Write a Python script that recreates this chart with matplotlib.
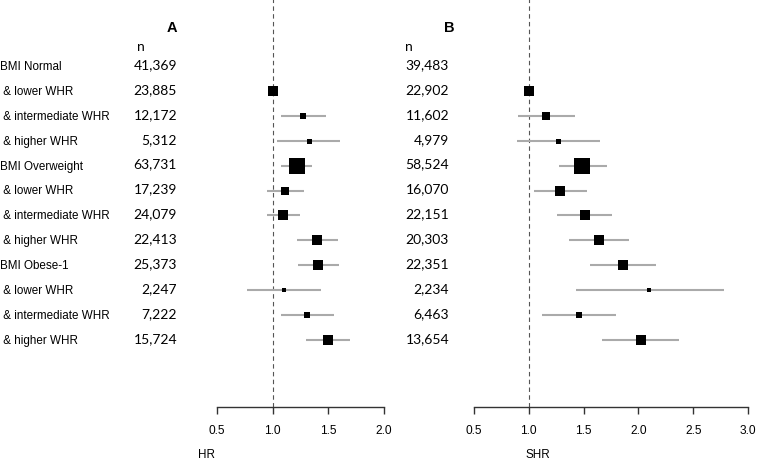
import numpy as np
import matplotlib
matplotlib.use("Agg")
import matplotlib.pyplot as plt
from matplotlib.transforms import blended_transform_factory

# row labels shared by both panels
labels = ["BMI Normal", " & lower WHR", " & intermediate WHR", " & higher WHR",
          "BMI Overweight", " & lower WHR", " & intermediate WHR", " & higher WHR",
          "BMI Obese-1", " & lower WHR", " & intermediate WHR", " & higher WHR"]

# panel A (HR)
n_a = ["41,369", "23,885", "12,172", "5,312", "63,731", "17,239",
       "24,079", "22,413", "25,373", "2,247", "7,222", "15,724"]
hr = [np.nan, 1.00, 1.27, 1.33, 1.22, 1.11, 1.09, 1.40, 1.41, 1.10, 1.31, 1.50]
hr_lo = [np.nan, np.nan, 1.075, 1.04, 1.075, 0.95, 0.95, 1.22, 1.23, 0.77, 1.075, 1.30]
hr_hi = [np.nan, np.nan, 1.48, 1.61, 1.355, 1.28, 1.25, 1.59, 1.60, 1.44, 1.55, 1.70]
w_a = [0, 7.7, 5.0, 3.6, 11.5, 6.3, 7.2, 7.2, 7.7, 2.9, 4.3, 6.5]

# panel B (SHR)
n_b = ["39,483", "22,902", "11,602", "4,979", "58,524", "16,070",
       "22,151", "20,303", "22,351", "2,234", "6,463", "13,654"]
shr = [np.nan, 1.00, 1.16, 1.27, 1.49, 1.29, 1.51, 1.64, 1.86, 2.10, 1.46, 2.02]
shr_lo = [np.nan, np.nan, 0.90, 0.89, 1.28, 1.05, 1.26, 1.37, 1.56, 1.43, 1.12, 1.67]
shr_hi = [np.nan, np.nan, 1.42, 1.65, 1.71, 1.53, 1.76, 1.915, 2.16, 2.78, 1.80, 2.37]
w_b = [0, 7.2, 5.5, 3.6, 12.2, 6.5, 7.2, 7.2, 7.2, 2.9, 4.3, 6.5]

W, H = 757, 460
fig = plt.figure(figsize=(W / 100, H / 100), dpi=100)

LAB_FONT = "Liberation Sans"
NUM_FONT = "Lato"
ROW0, STEP, AXIS_Y = 67, 24.9, 408


def px(x):
    return x / W


def draw_panel(x0, x1, lim, ticks, est, lo, hi, sizes, nvals, title, title_x,
               n_x, num_right, xlabel, xlabel_x, show_labels):
    ax = fig.add_axes([px(x0), 1 - AXIS_Y / H, px(x1 - x0), AXIS_Y / H])
    rows = np.arange(len(labels))
    ax.set_xlim(*lim)
    ax.set_ylim((AXIS_Y - ROW0) / STEP, -ROW0 / STEP)
    ax.axvline(1.0, color="#555555", lw=0.8, ls=(0, (4, 3)), zorder=1)
    for r, m, l, h, s in zip(rows, est, lo, hi, sizes):
        if not np.isnan(l):
            ax.plot([l, h], [r, r], color="#aaaaaa", lw=1.5, zorder=2,
                    solid_capstyle="butt")
        if not np.isnan(m):
            ax.plot(m, r, marker="s", color="black", ms=s, mew=0, zorder=3)
    for side in ["top", "left", "right"]:
        ax.spines[side].set_visible(False)
    ax.spines["bottom"].set_color("#333333")
    ax.spines["bottom"].set_linewidth(1.0)
    ax.set_yticks([])
    ax.set_xticks(ticks)
    ax.set_xticklabels([f"{t:.1f}" for t in ticks], fontfamily=LAB_FONT, fontsize=8.6)
    ax.tick_params(axis="x", direction="out", length=5, width=1.0,
                   color="#333333", pad=7)
    ax.patch.set_alpha(0)

    tr = blended_transform_factory(fig.transFigure, ax.transData)
    for r, nv in zip(rows, nvals):
        ax.text(px(num_right), r - 0.08, nv, transform=tr, ha="right", va="center",
                fontfamily=NUM_FONT, fontsize=10, clip_on=False)
        if show_labels:
            ax.text(0.0, r, labels[r], transform=tr, ha="left", va="center",
                    fontfamily=LAB_FONT, fontsize=8.4, clip_on=False)
    fig.text(px(title_x), 1 - 28 / H, title, ha="center", va="center",
             fontfamily=LAB_FONT, fontsize=10.5, fontweight="bold")
    fig.text(px(n_x), 1 - 47 / H, "n", ha="center", va="center",
             fontfamily=NUM_FONT, fontsize=10)
    fig.text(px(xlabel_x), 1 - 455 / H, xlabel, ha="center", va="center",
             fontfamily=LAB_FONT, fontsize=8.4)
    return ax


draw_panel(217, 383.7, (0.5, 2.0), [0.5, 1.0, 1.5, 2.0], hr, hr_lo, hr_hi, w_a,
           n_a, "A", 172, 141, 177, "HR", 206, True)
draw_panel(473.7, 748.3, (0.5, 3.0), [0.5, 1.0, 1.5, 2.0, 2.5, 3.0], shr, shr_lo,
           shr_hi, w_b, n_b, "B", 449, 409, 449, "SHR", 538, False)

fig.savefig("out.png", dpi=100, facecolor="white")
